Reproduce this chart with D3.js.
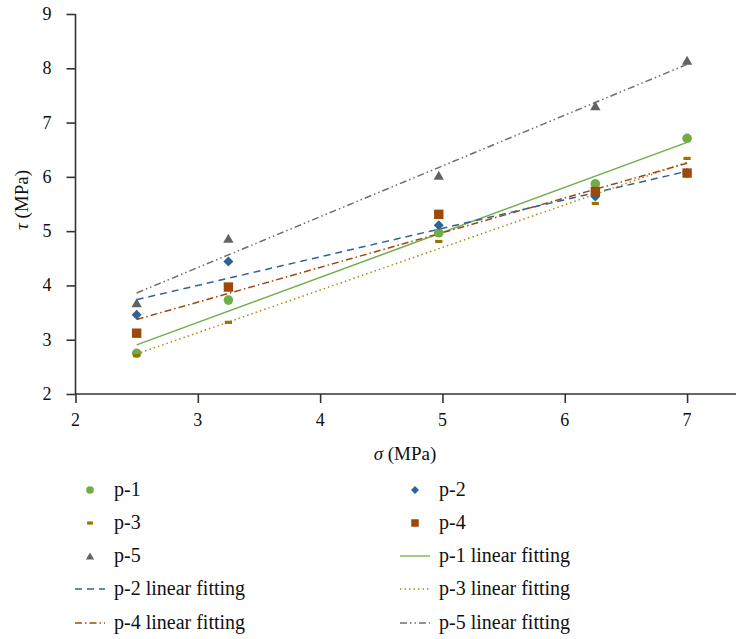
<!DOCTYPE html>
<html>
<head>
<script src="https://cdn.jsdelivr.net/npm/d3@7"></script>
</head>
<body style="margin:0">
<script>
// sigma values (MPa) at which each specimen was tested
const sigma = [2.5, 3.25, 4.97, 6.25, 7.0];

// tau values (MPa)
const p1 = [2.75, 3.73, 4.97, 5.87, 6.71];
const p2 = [3.46, 4.44, 5.11, 5.64, 6.07];
const p3 = [2.71, 3.32, 4.81, 5.51, 6.34];
const p4 = [3.12, 3.97, 5.31, 5.73, 6.07];
const p5 = [3.68, 4.87, 6.03, 7.31, 8.15];

const seriesNames = ["p-1", "p-2", "p-3", "p-4", "p-5"];
const xTicks = [2, 3, 4, 5, 6, 7];
const yTicks = [2, 3, 4, 5, 6, 7, 8, 9];

const width = 736, height = 639;
const serif = "'Liberation Serif'";

const series = [
  { name: seriesNames[0], y: p1, color: "#70ad47", line: "#70ad47", dash: null, symbol: "circle" },
  { name: seriesNames[1], y: p2, color: "#2e6399", line: "#2e6399", dash: "7,5", symbol: "diamond" },
  { name: seriesNames[2], y: p3, color: "#997300", line: "#b08a10", dash: "1.5,3", symbol: "bar" },
  { name: seriesNames[3], y: p4, color: "#9e480e", line: "#9e480e", dash: "7,3,1.5,3", symbol: "square" },
  { name: seriesNames[4], y: p5, color: "#636363", line: "#6f6f6f", dash: "7,3,1.5,3,1.5,3", symbol: "triangle" }
];

const x = d3.scaleLinear().domain([2, 7.4]).range([75.5, 736]);
const y = d3.scaleLinear().domain([2, 9]).range([394, 14]);

const svg = d3.select("body").append("svg")
    .attr("width", width)
    .attr("height", height);

// axes: lines and ticks from d3-axis, labels drawn as plain text at the root
const axisColor = "#333";
const gx = svg.append("g")
    .attr("transform", `translate(0,${y(2)})`)
    .call(d3.axisBottom(x).tickValues(xTicks).tickSize(9).tickFormat(""));
const gy = svg.append("g")
    .attr("transform", `translate(${x(2)},0)`)
    .call(d3.axisLeft(y).tickValues(yTicks).tickSize(9).tickFormat(""));

[gx, gy].forEach(g => {
  g.select(".domain").attr("stroke", axisColor).attr("stroke-width", 1.6);
  g.selectAll(".tick line").attr("stroke", axisColor).attr("stroke-width", 1.6);
});
gy.select(".domain").attr("d", `M0,${y(9)}V${y(2)}`);
gx.select(".domain").attr("d", `M${x(2)},0H${width}`);

svg.selectAll("text.xt").data(xTicks).join("text")
    .attr("class", "xt")
    .attr("x", d => x(d)).attr("y", y(2) + 32)
    .attr("text-anchor", "middle")
    .attr("fill", "#111")
    .style("font-family", serif).style("font-size", "18px")
    .text(d => d);

svg.selectAll("text.yt").data(yTicks).join("text")
    .attr("class", "yt")
    .attr("x", x(2) - 24).attr("y", d => y(d) + 6)
    .attr("text-anchor", "end")
    .attr("fill", "#111")
    .style("font-family", serif).style("font-size", "18px")
    .text(d => d);

svg.append("text")
    .attr("x", 405).attr("y", 460)
    .attr("text-anchor", "middle")
    .style("font-family", serif).style("font-size", "19px")
    .attr("fill", "#111")
    .html('<tspan font-style="italic">σ</tspan> (MPa)');

svg.append("text")
    .attr("transform", `translate(28,200) rotate(-90)`)
    .attr("text-anchor", "middle")
    .style("font-family", serif).style("font-size", "19px")
    .attr("fill", "#111")
    .html('<tspan font-style="italic">τ</tspan> (MPa)');

// least-squares fit for each series
function fit(ys) {
  const mx = d3.mean(sigma), my = d3.mean(ys);
  const sxy = d3.sum(sigma, (v, i) => (v - mx) * (ys[i] - my));
  const sxx = d3.sum(sigma, v => (v - mx) * (v - mx));
  const b = sxy / sxx, a = my - b * mx;
  return d3.extent(sigma).map(v => [v, a + b * v]);
}

const line = d3.line().x(d => x(d[0])).y(d => y(d[1]));

const gLines = svg.append("g").attr("fill", "none");
series.forEach(s => {
  gLines.append("path")
      .attr("d", line(fit(s.y)))
      .attr("stroke", s.line)
      .attr("stroke-width", 1.5)
      .attr("stroke-dasharray", s.dash);
});

function drawSymbol(g, kind, color, cx, cy, scale = 1) {
  if (kind === "circle") {
    g.append("circle").attr("cx", cx).attr("cy", cy).attr("r", 4.8 * scale).attr("fill", color);
  } else if (kind === "diamond") {
    const r = 5 * scale;
    g.append("path")
      .attr("d", `M${cx},${cy - r}L${cx + r},${cy}L${cx},${cy + r}L${cx - r},${cy}Z`)
      .attr("fill", color);
  } else if (kind === "square") {
    const h = 4.7 * scale;
    g.append("rect").attr("x", cx - h).attr("y", cy - h).attr("width", 2 * h).attr("height", 2 * h).attr("fill", color);
  } else if (kind === "triangle") {
    const w = 5.2 * scale, t = 4.5 * scale;
    g.append("path")
      .attr("d", `M${cx},${cy - t}L${cx + w},${cy + t}L${cx - w},${cy + t}Z`)
      .attr("fill", color);
  } else if (kind === "bar") {
    g.append("rect").attr("x", cx - 3.6 * scale).attr("y", cy - 1.6).attr("width", 7.2 * scale).attr("height", 3.2).attr("fill", color);
  }
}

const gPts = svg.append("g");
series.forEach(s => {
  s.y.forEach((v, i) => drawSymbol(gPts, s.symbol, s.color, x(sigma[i]), y(v)));
});

// legend
const legendItems = [
  { kind: "point", s: series[0] }, { kind: "point", s: series[1] },
  { kind: "point", s: series[2] }, { kind: "point", s: series[3] },
  { kind: "point", s: series[4] }, { kind: "fit", s: series[0] },
  { kind: "fit", s: series[1] }, { kind: "fit", s: series[2] },
  { kind: "fit", s: series[3] }, { kind: "fit", s: series[4] }
];
const rowY = [490, 523, 556, 589, 623];
const colX = [75, 400];
const legX = (d, i) => colX[i % 2];
const legY = (d, i) => rowY[Math.floor(i / 2)];

const gLeg = svg.append("g");
legendItems.forEach((it, i) => {
  const cx = legX(it, i), cy = legY(it, i);
  if (it.kind === "point") {
    drawSymbol(gLeg, it.s.symbol, it.s.color, cx + 15, cy, 0.8);
  } else {
    gLeg.append("line")
      .attr("x1", cx).attr("x2", cx + 30).attr("y1", cy).attr("y2", cy)
      .attr("stroke", it.s.line).attr("stroke-width", 1.3)
      .attr("stroke-dasharray", it.s.dash);
  }
});

svg.selectAll("text.leg").data(legendItems).join("text")
    .attr("class", "leg")
    .attr("x", (d, i) => legX(d, i) + 39)
    .attr("y", (d, i) => legY(d, i) + 6)
    .attr("fill", "#111")
    .style("font-family", serif).style("font-size", "20px")
    .text(d => d.kind === "point" ? d.s.name : d.s.name + " linear fitting");
</script>
</body>
</html>
